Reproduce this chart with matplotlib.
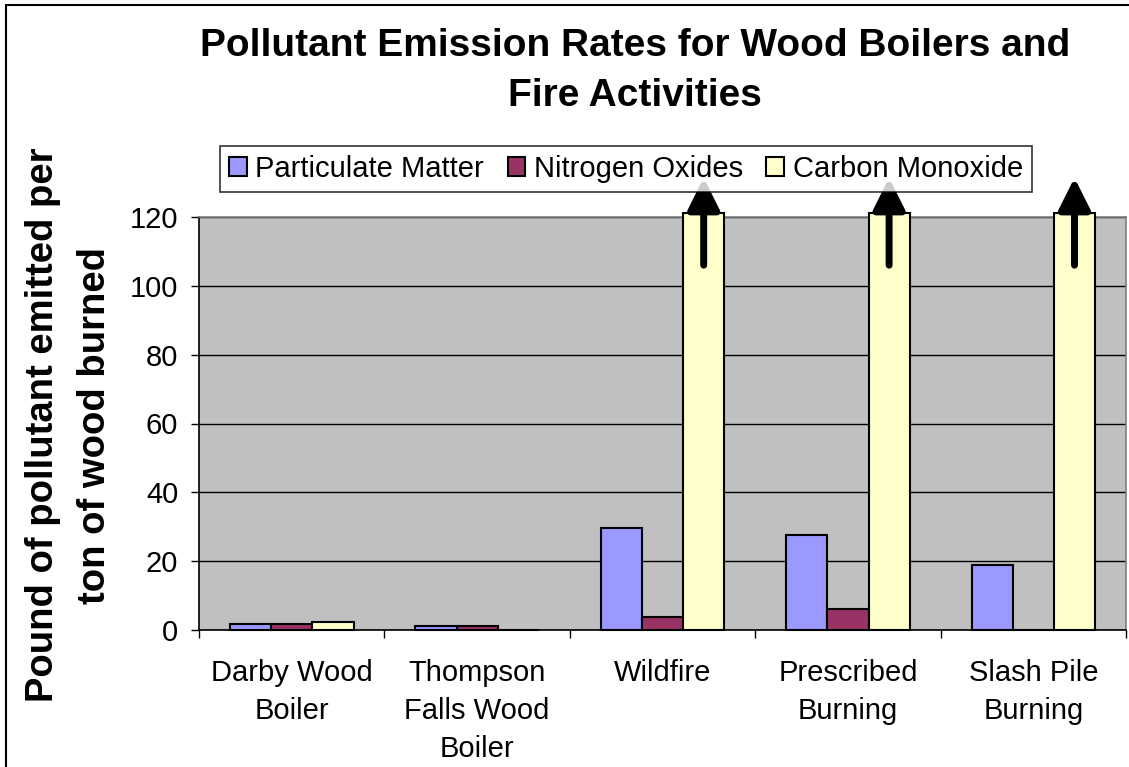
import numpy as np
import matplotlib
matplotlib.use("Agg")
import matplotlib.pyplot as plt
from matplotlib.patches import Rectangle

# ---------------------------------------------------------------------
# Data (pounds per ton of wood burned)
# ---------------------------------------------------------------------
categories = ["Darby Wood\nBoiler", "Thompson\nFalls Wood\nBoiler", "Wildfire",
              "Prescribed\nBurning", "Slash Pile\nBurning"]
series_names = ["Particulate Matter", "Nitrogen Oxides", "Carbon Monoxide"]
particulate = [1.7, 1.2, 29.6, 27.6, 18.9]
nitrogen_ox = [1.7, 1.2, 3.8, 6.1, 0.0]
# the fire CO values run off the scale; they are drawn cut just above 120
carbon_mono = [2.3, 0.0, 121.2, 121.2, 121.2]
off_scale = [False, False, True, True, True]
y_ticks = [0, 20, 40, 60, 80, 100, 120]

colors = ["#9999FF", "#993366", "#FFFFCC"]

plt.rcParams["font.family"] = ["Liberation Sans", "DejaVu Sans"]

fig = plt.figure(figsize=(11.29, 7.67), dpi=100)
ax = fig.add_axes([199 / 1129, 1 - 630 / 767, (1126 - 199) / 1129, (630 - 217) / 767])
ax.set_facecolor("#C0C0C0")

x = np.arange(len(categories))
w = 1 / 4.5
for i, (vals, col, name) in enumerate(zip([particulate, nitrogen_ox, carbon_mono], colors, series_names)):
    ax.bar(x + (i - 1) * w, vals, width=w, color=col, edgecolor="black",
           linewidth=1.5, label=name, clip_on=False, zorder=3)

# arrows over the off-scale bars
for xi, flag in zip(x, off_scale):
    if flag:
        ax.annotate("", xy=(xi + w, 131.4), xytext=(xi + w, 106),
                    arrowprops=dict(arrowstyle="-|>,head_length=1.0,head_width=0.5",
                                    mutation_scale=19, color="black", lw=5,
                                    shrinkA=0, shrinkB=0),
                    annotation_clip=False, zorder=5)

ax.set_xlim(-0.5, len(categories) - 0.5)
ax.set_ylim(0, 120)
ax.set_yticks(y_ticks)
ax.set_yticklabels([str(t) for t in y_ticks], fontsize=21)
ax.set_xticks(x)
ax.set_xticklabels(categories, fontsize=21, linespacing=1.45, va="top")
ax.set_xticks(np.arange(len(categories) + 1) - 0.5, minor=True)
ax.tick_params(axis="x", which="major", length=0, pad=21)
ax.tick_params(axis="x", which="minor", length=6, width=1, direction="out")
ax.tick_params(axis="y", length=6, width=1, direction="out", pad=9)
ax.yaxis.grid(True, color="black", linewidth=1)
ax.set_axisbelow(True)

for s in ["left", "bottom"]:
    ax.spines[s].set_color("black")
    ax.spines[s].set_linewidth(1.2)
for s in ["top", "right"]:
    ax.spines[s].set_color("#808080")
    ax.spines[s].set_linewidth(1.2)

fig.text(0.5625, 1 - 71 / 767, "Pollutant Emission Rates for Wood Boilers and\nFire Activities",
         ha="center", va="center", fontsize=28, fontweight="bold", linespacing=1.5)
fig.text(69 / 1129, 1 - 425 / 767, "Pound of pollutant emitted per\nton of wood burned",
         ha="center", va="center", rotation=90, fontsize=27.5, fontweight="bold", linespacing=1.55)

leg = fig.legend(loc="center", bbox_to_anchor=(626 / 1129, 1 - 169 / 767), ncol=3,
                 fontsize=21, frameon=True, fancybox=False, edgecolor="black",
                 handlelength=0.6, handleheight=0.6, handletextpad=0.3,
                 columnspacing=0.8, borderpad=0.3, borderaxespad=0)
leg.get_frame().set_linewidth(1.2)

# outer chart border
fig.patches.append(Rectangle((6 / 1129, -0.1), 1.2, 1.1 - 5 / 767, transform=fig.transFigure,
                             fill=False, edgecolor="black", linewidth=1.5))

fig.savefig("out.png", dpi=100)
